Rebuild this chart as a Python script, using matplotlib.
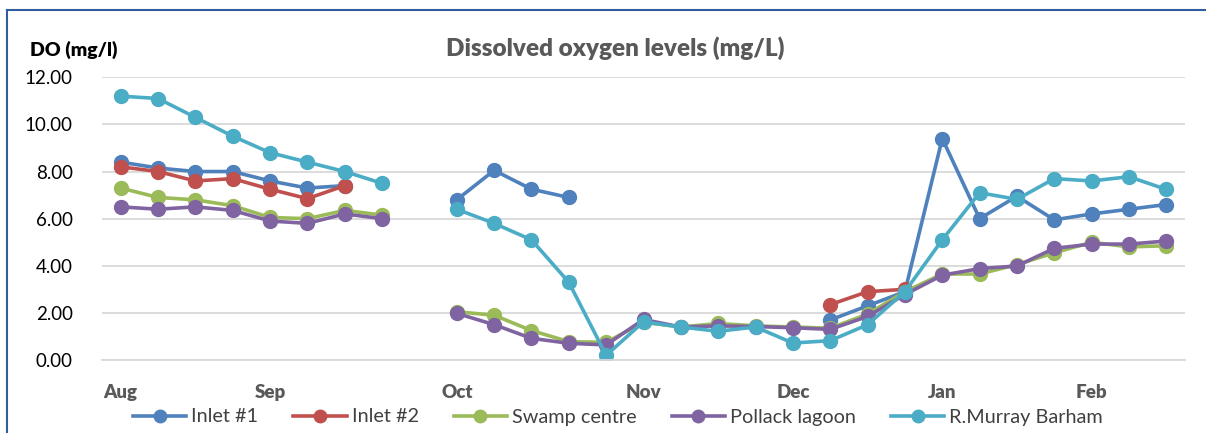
import numpy as np
import matplotlib
matplotlib.use("Agg")
from matplotlib import pyplot as plt
from matplotlib.lines import Line2D

nan = np.nan

# weekly samples, Aug -> Feb (29 categories)
month_pos = [0, 4, 9, 14, 18, 22, 26]
month_labels = ["Aug", "Sep", "Oct", "Nov", "Dec", "Jan", "Feb"]

inlet1 = [8.4, 8.15, 8.0, 8.0, 7.6, 7.3, 7.4, nan, nan,
          6.8, 8.05, 7.25, 6.9, nan, nan, nan, nan, nan, nan,
          1.7, 2.3, 2.9, 9.4, 6.0, 6.95, 5.95, 6.2, 6.4, 6.6]
inlet2 = [8.2, 8.0, 7.6, 7.7, 7.25, 6.85, 7.4, nan, nan,
          nan, nan, nan, nan, nan, nan, nan, nan, nan, nan,
          2.35, 2.9, 3.0, nan, nan, nan, nan, nan, nan, nan]
swamp = [7.3, 6.9, 6.8, 6.55, 6.05, 6.0, 6.35, 6.15, nan,
         2.05, 1.9, 1.25, 0.78, 0.75, 1.6, 1.4, 1.55, 1.45, 1.4,
         1.35, 1.95, 2.9, 3.65, 3.65, 4.05, 4.55, 5.0, 4.8, 4.85]
pollack = [6.5, 6.4, 6.5, 6.35, 5.9, 5.8, 6.2, 6.0, nan,
           1.98, 1.5, 0.92, 0.71, 0.64, 1.72, 1.4, 1.45, 1.42, 1.37,
           1.3, 1.85, 2.78, 3.6, 3.88, 3.99, 4.74, 4.92, 4.92, 5.05]
murray = [11.2, 11.1, 10.3, 9.5, 8.8, 8.4, 8.0, 7.5, nan,
          6.4, 5.8, 5.1, 3.3, 0.2, 1.62, 1.4, 1.22, 1.4, 0.72,
          0.82, 1.5, 2.9, 5.1, 7.1, 6.82, 7.7, 7.6, 7.78, 7.24]

series = [("Inlet #1", inlet1, "#4F81BD"),
          ("Inlet #2", inlet2, "#C0504D"),
          ("Swamp centre", swamp, "#9BBB59"),
          ("Pollack lagoon", pollack, "#8064A2"),
          ("R.Murray Barham", murray, "#4BACC6")]

plt.rcParams['font.family'] = ['Lato', 'DejaVu Sans']

fig = plt.figure(figsize=(12.06, 4.33), dpi=100)
ax = fig.add_axes([102 / 1206, 1 - 360 / 433, 1083 / 1206, 282.7 / 433])

x = np.arange(len(murray))
for name, vals, col in series:
    ax.plot(x, vals, color=col, lw=2.6, marker="o", ms=10, label=name,
            solid_capstyle="round", solid_joinstyle="round")

ax.set_xlim(-0.5, len(murray) - 0.5)
ax.set_ylim(0, 12)
ax.set_yticks(np.arange(0, 12.1, 2))
ax.set_yticklabels([f"{v:.2f}" for v in np.arange(0, 12.1, 2)])
ax.set_xticks(month_pos)
ax.set_xticklabels(month_labels, fontweight="heavy", color="#595959")
ax.tick_params(axis="both", length=0, labelsize=13.5)
ax.tick_params(axis="x", pad=17)
ax.tick_params(axis="y", pad=21, labelcolor="#000000")
ax.grid(axis="y", color="#D9D9D9", lw=1.3)
ax.set_axisbelow(True)
for s in ax.spines.values():
    s.set_visible(False)
ax.spines["bottom"].set_visible(True)
ax.spines["bottom"].set_color("#D9D9D9")
ax.spines["bottom"].set_linewidth(1.3)

fig.text(615 / 1206, 1 - 48 / 433, "Dissolved oxygen levels (mg/L)",
         ha="center", va="center", fontsize=17.5, fontweight="heavy", color="#595959")
fig.text(30 / 1206, 1 - 50 / 433, "DO (mg/l)", ha="left", va="center",
         fontsize=14, fontweight="heavy", color="#000000")

handles = [Line2D([], [], color=c, lw=2.6, marker="o", ms=9) for _, _, c in series]
fig.legend(handles, [n for n, _, _ in series], loc="center",
           bbox_to_anchor=(618 / 1206, 1 - 417 / 433), ncol=5, frameon=False,
           fontsize=14.3, handlelength=2.7, handletextpad=0.25, columnspacing=1.75,
           labelcolor="#404040")

# chart frame: top and left edges visible
fig.add_artist(Line2D([7 / 1206, 1.0], [1 - 10 / 433, 1 - 10 / 433],
                      transform=fig.transFigure, color="#2F5D9E", lw=1.5))
fig.add_artist(Line2D([7 / 1206, 7 / 1206], [0.0, 1 - 10 / 433],
                      transform=fig.transFigure, color="#2F5D9E", lw=1.5))

fig.savefig("out.png", dpi=100)
